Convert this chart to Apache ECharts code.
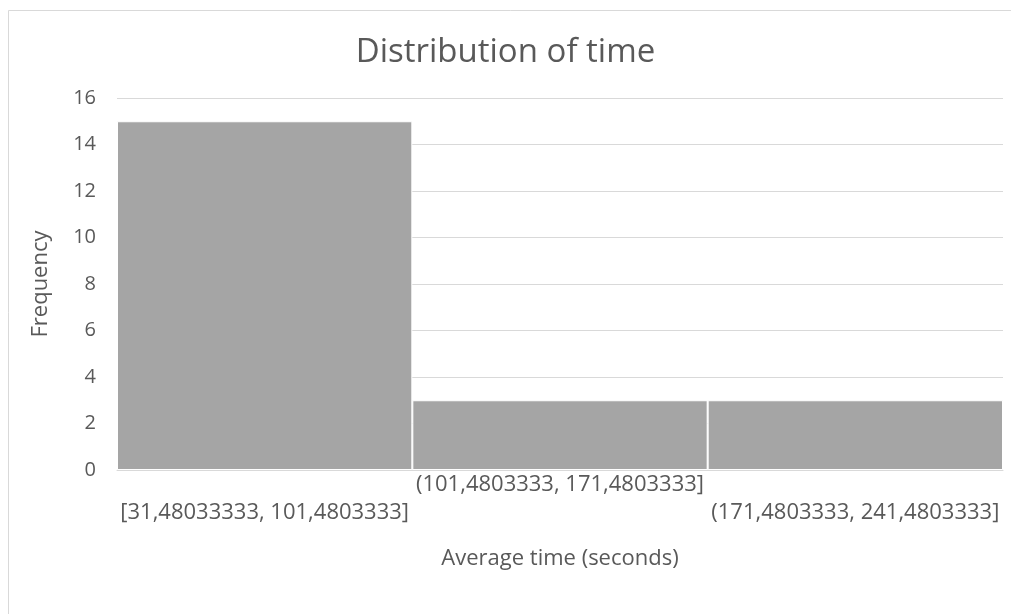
<!DOCTYPE html>
<html>
<head>
<meta charset="utf-8">
<script src="https://cdn.jsdelivr.net/npm/echarts@6/dist/echarts.min.js"></script>
<style>html,body{margin:0;padding:0;background:#fff}#c{width:1011px;height:614px}</style>
</head>
<body>
<div id="c"></div>
<script>
const categories = ['[31,48033333, 101,4803333]', '(101,4803333, 171,4803333]', '(171,4803333, 241,4803333]'];
const frequencies = [15, 3, 3];
const titleText = 'Distribution of time';
const xAxisName = 'Average time (seconds)';
const yAxisName = 'Frequency';

const FONT = '"Open Sans"';
const chart = echarts.init(document.getElementById('c'), null, {renderer: 'canvas'});
chart.setOption({
  animation: false,
  backgroundColor: '#fff',
  graphic: [{
    type: 'rect', left: 6, top: 8,
    shape: {width: 1100, height: 700},
    style: {fill: 'none', stroke: '#d9d9d9', lineWidth: 1}
  }],
  title: {
    text: titleText, left: 'center', top: 31,
    textStyle: {fontFamily: FONT, fontWeight: 'normal', fontSize: 33, color: '#595959'}
  },
  grid: {left: 117, right: 8, top: 98, bottom: 144, containLabel: false},
  xAxis: {
    type: 'category', data: categories,
    name: xAxisName, nameLocation: 'middle', nameGap: 78,
    nameTextStyle: {fontFamily: FONT, fontSize: 22, color: '#595959'},
    axisLine: {lineStyle: {color: '#d9d9d9'}},
    axisTick: {show: false},
    axisLabel: {
      interval: 0, margin: 1,
      fontFamily: FONT, fontSize: 22, color: '#595959', lineHeight: 28,
      formatter: (v, i) => (i % 2 === 1 ? v : '\n' + v)
    }
  },
  yAxis: {
    type: 'value', min: 0, max: 16, interval: 2,
    name: yAxisName, nameLocation: 'middle', nameGap: 65, nameRotate: 90,
    nameTextStyle: {fontFamily: FONT, fontSize: 22, color: '#595959'},
    axisLine: {show: false}, axisTick: {show: false},
    axisLabel: {fontFamily: FONT, fontSize: 20, color: '#595959', margin: 21},
    splitLine: {lineStyle: {color: '#d9d9d9'}}
  },
  series: [{
    type: 'bar', data: frequencies,
    barCategoryGap: 0,
    itemStyle: {color: '#a5a5a5', borderColor: '#ffffff', borderWidth: 1}
  }]
});
</script>
</body>
</html>
